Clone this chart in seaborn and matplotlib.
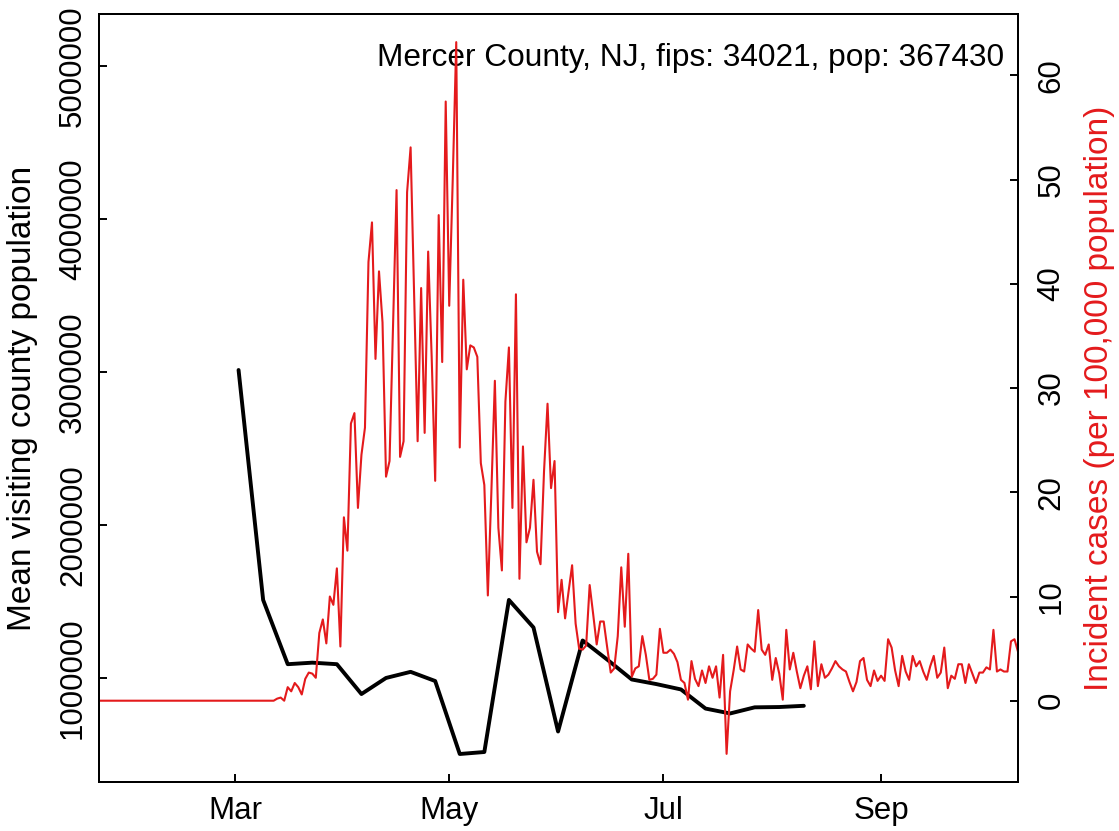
import numpy as np
import pandas as pd
import matplotlib
matplotlib.use("Agg")
import matplotlib.pyplot as plt
import seaborn as sns

sns.set_style("ticks")
plt.rcParams['font.family'] = ['Liberation Sans', 'DejaVu Sans']
plt.rcParams['text.color'] = 'black'
plt.rcParams['axes.labelcolor'] = 'black'
plt.rcParams['xtick.color'] = 'black'
plt.rcParams['ytick.color'] = 'black'

# daily incident cases per 100,000, starting 2020-01-22
case_start = "2020-01-22"
cases = [
    0, 0, 0, 0, 0, 0, 0, 0, 0, 0,
    0, 0, 0, 0, 0, 0, 0, 0, 0, 0,
    0, 0, 0, 0, 0, 0, 0, 0, 0, 0,
    0, 0, 0, 0, 0, 0, 0, 0, 0, 0,
    0, 0, 0, 0, 0, 0, 0, 0, 0, 0,
    0,
    0.2, 0.3, 0.0, 1.3, 0.9, 1.7, 1.3, 0.6, 2.1, 2.7,
    2.6, 2.2, 6.5, 7.8, 5.5, 10.0, 9.2, 12.7, 5.2, 17.6,
    14.4, 26.6, 27.6, 18.5, 23.6, 26.2, 42.1, 45.9, 32.8, 41.2,
    36.3, 21.5, 23.0, 36.0, 49.0, 23.4, 24.9, 48.8, 53.1, 39.0,
    24.9, 39.6, 25.7, 43.1, 33.0, 21.1, 46.6, 32.5, 57.5, 37.9,
    50.0, 63.2, 24.3, 40.4, 31.8, 34.1, 33.9, 33.0, 22.8, 20.7,
    10.1, 20.0, 30.7, 16.6, 12.5, 28.7, 33.9, 18.5, 39.0, 11.7,
    24.4, 15.2, 16.6, 21.2, 14.3, 13.1, 22.0, 28.5, 20.4, 23.0,
    8.5, 11.6, 7.9, 10.5, 13.0, 7.4, 5.0, 4.9, 5.3, 11.1,
    8.3, 5.4, 7.6, 7.6, 5.1, 2.7, 3.1, 6.2, 12.8, 7.1,
    14.1, 2.3, 3.1, 3.3, 6.2, 4.4, 2.0, 2.1, 2.5, 6.9,
    4.6, 4.6, 4.9, 4.5, 3.7, 2.0, 1.7, 0.1, 3.8, 2.1,
    1.4, 2.9, 1.7, 3.3, 2.2, 3.3, 0.3, 4.4, -5.1, 0.9,
    2.9, 5.2, 3.0, 2.8, 5.4, 5.0, 4.7, 8.7, 4.9, 4.4,
    5.4, 2.0, 4.1, 2.6, 0.1, 6.8, 3.0, 4.6, 2.8, 1.2,
    2.4, 3.3, 1.1, 5.7, 1.4, 3.5, 2.2, 2.5, 3.1, 3.8,
    3.3, 3.0, 2.8, 1.8, 0.9, 1.8, 3.8, 4.1, 2.0, 1.4,
    2.9, 1.9, 2.4, 1.9, 5.9, 5.1, 2.9, 1.4, 4.3, 2.8,
    2.0, 4.3, 3.3, 3.8, 2.8, 2.0, 3.3, 4.3, 2.2, 2.7,
    5.1, 1.2, 2.4, 2.1, 3.5, 3.5, 1.7, 3.5, 2.6, 1.7,
    2.7, 2.7, 3.2, 3.0, 6.8, 2.8, 3.0, 2.8, 2.8, 5.7,
    5.9, 4.7,
]

# weekly mean visiting population, starting 2020-03-02
visit_start = "2020-03-02"
visits = [3013000, 1510000, 1090000, 1100000, 1090000, 895000, 1000000, 1040000,
          980000, 503000, 516000, 1510000, 1330000, 650000, 1245000, 1120000,
          990000, 960000, 925000, 800000, 768000, 808000, 810000, 818000]

title = "Mercer County, NJ, fips: 34021, pop: 367430"
month_ticks = ["2020-03-01", "2020-05-01", "2020-07-01", "2020-09-01"]
month_labels = ["Mar", "May", "Jul", "Sep"]
left_ticks = [1000000, 2000000, 3000000, 4000000, 5000000]
right_ticks = [0, 10, 20, 30, 40, 50, 60]

red = "#E41A1C"

case_df = pd.DataFrame({"date": pd.date_range(case_start, periods=len(cases), freq="D"),
                        "cases": cases})
visit_df = pd.DataFrame({"date": pd.date_range(visit_start, periods=len(visits), freq="7D"),
                         "visits": visits})

W, H = 1119, 831
fig = plt.figure(figsize=(W / 100, H / 100), dpi=100)
left, right, top, bottom = 99, 1018.3, 14.3, 782.3
ax = fig.add_axes([left / W, 1 - bottom / H, (right - left) / W, (bottom - top) / H])

sns.lineplot(data=visit_df, x="date", y="visits", ax=ax, color="black", linewidth=2.8)
ax2 = ax.twinx()
sns.lineplot(data=case_df, x="date", y="cases", ax=ax2, color=red, linewidth=1.5)

ax.set_xlim(pd.Timestamp("2020-01-22 06:00"), pd.Timestamp("2020-10-10 02:00"))
ax.set_ylim(318000, 5338000)
ax2.set_ylim(-7.83, 65.87)

tick_fs = 22.5
ax.set_xticks(pd.to_datetime(month_ticks))
ax.set_xticklabels(month_labels)
ax.set_yticks(left_ticks)
ax.set_yticklabels([str(v) for v in left_ticks], rotation=90, va="center")
ax2.set_yticks(right_ticks)
ax2.set_yticklabels([str(v) for v in right_ticks], rotation=90, va="center", ha="left")

ax.tick_params(axis="both", direction="in", length=6, width=1.4, labelsize=tick_fs, pad=8)
ax.tick_params(axis="x", pad=10)
ax2.tick_params(axis="y", direction="in", length=6, width=1.4, labelsize=tick_fs, pad=13)

for a in (ax, ax2):
    for s in a.spines.values():
        s.set_visible(True)
        s.set_linewidth(1.4)
        s.set_color("black")

lab_fs = 24
ax.set_xlabel("")
ax.set_ylabel("Mean visiting county population", fontsize=lab_fs)
ax.yaxis.set_label_coords(-0.0664, 0.5)
ax2.set_ylabel("Incident cases (per 100,000 population)", fontsize=lab_fs, color=red)
ax2.yaxis.set_label_coords(1.0715, 0.5)

ax.text(0.9844, 0.9327, title, transform=ax.transAxes, ha="right", va="baseline", fontsize=22.8)

fig.savefig("out.png", dpi=100)
